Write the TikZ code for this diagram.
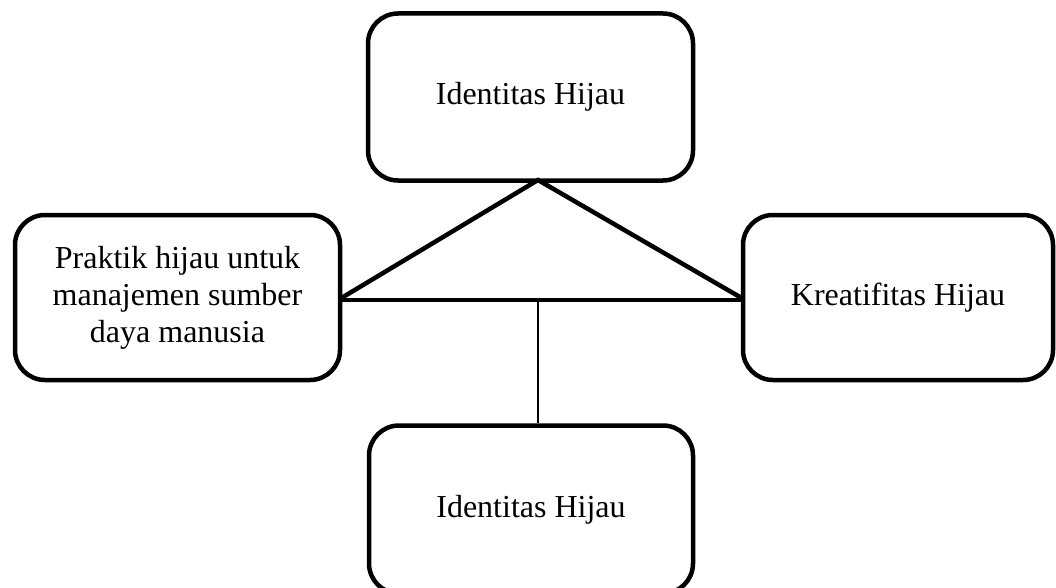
\documentclass[tikz,border=0pt]{standalone}
\usepackage{fontspec}
\setmainfont{Liberation Serif}
\begin{document}
\begin{tikzpicture}[x=1pt,y=-1pt,
  box/.style={draw=black,line width=4.5pt,rounded corners=30pt,fill=white,
    inner sep=0pt,align=center,font=\fontsize{32}{37}\selectfont},
  thickline/.style={line width=4.5pt,line cap=butt},
  thinline/.style={line width=1.5pt}]
\useasboundingbox (0,0) rectangle (1056,588);
\node[box,minimum width=325pt,minimum height=167pt] (top) at (530.5,97) {Identitas Hijau};
\node[box,minimum width=325pt,minimum height=165pt] (left) at (177.5,297.5) {Praktik hijau untuk\\manajemen sumber\\daya manusia};
\node[box,minimum width=310pt,minimum height=165pt] (right) at (898,297.5) {Kreatifitas Hijau};
\node[box,minimum width=324pt,minimum height=168pt] (bottom) at (531,509.5) {Identitas Hijau};
\coordinate (apex) at (538,180);
\coordinate (hl) at (340,300);
\coordinate (hr) at (743,300);
\coordinate (hm) at (538,300);
\draw[thickline,line join=miter] (left.east) -- (apex) -- (right.west);
\draw[thickline] (hl) -- (hr);
\draw[thinline] (hm) -- (bottom.north -| hm);
\end{tikzpicture}
\end{document}
